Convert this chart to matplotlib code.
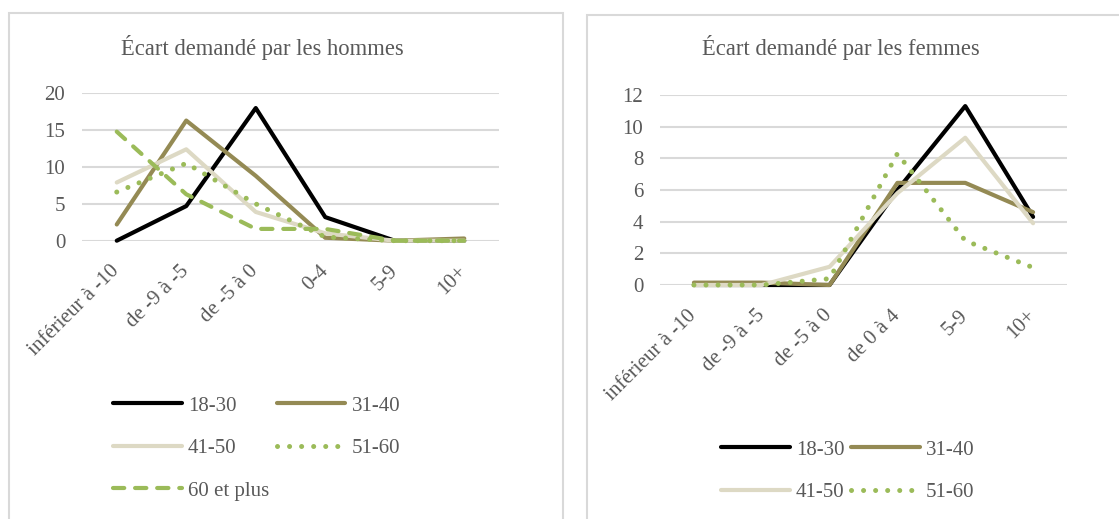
import numpy as np
import matplotlib.pyplot as plt
from matplotlib.patches import Rectangle

# categories
cat_h = ['inférieur à -10', 'de -9 à -5', 'de -5 à 0', '0-4', '5-9', '10+']
cat_f = ['inférieur à -10', 'de -9 à -5', 'de -5 à 0', 'de 0 à 4', '5-9', '10+']

# men, by age group
h_18_30 = [0, 4.7, 18.0, 3.2, 0, 0]
h_31_40 = [2.2, 16.3, 8.8, 0.4, 0, 0.3]
h_41_50 = [7.9, 12.4, 3.9, 1.0, 0, 0]
h_51_60 = [6.6, 10.5, 5.0, 0.5, 0, 0]
h_60_plus = [14.8, 6.3, 1.6, 1.6, 0, 0]

# women, by age group
f_18_30 = [0, 0, 0, 6.0, 11.3, 4.3]
f_31_40 = [0.15, 0.15, 0, 6.45, 6.45, 4.6]
f_41_50 = [0, 0, 1.15, 5.8, 9.3, 3.9]
f_51_60 = [0, 0, 0.4, 8.3, 2.8, 1.1]

TXT = '#595959'
GRID = '#D9D9D9'
plt.rcParams['font.family'] = ['Liberation Serif', 'DejaVu Serif']

styles = {
    '18-30': dict(color='black', lw=3.0, solid_capstyle='round'),
    '31-40': dict(color='#948A54', lw=3.0, solid_capstyle='round'),
    '41-50': dict(color='#DDD9C4', lw=3.0, solid_capstyle='round'),
    '51-60': dict(color='#9BBB59', lw=3.6, linestyle=(0, (0.01, 2.4)), dash_capstyle='round'),
    '60 et plus': dict(color='#9BBB59', lw=3.0, linestyle=(0, (2.7, 2.6)), dash_capstyle='round'),
}

fig = plt.figure(figsize=(11.19, 5.19), dpi=100)
W, H = 1119, 519

# chart frames
fig.patches.append(Rectangle((9 / W, -0.1), 554 / W, 1.1 - 13 / H, transform=fig.transFigure,
                             fill=False, ec=GRID, lw=1.5))
fig.patches.append(Rectangle((587 / W, -0.1), 540 / W, 1.1 - 15 / H, transform=fig.transFigure,
                             fill=False, ec=GRID, lw=1.5))


def make_axes(rect, cats, series, ymax, ystep, title, title_xy, leg_xy, col_gap):
    ax = fig.add_axes(rect)
    x = np.arange(len(cats))
    lines = []
    for name, vals in series:
        ln, = ax.plot(x, vals, label=name, clip_on=False, **styles[name])
        lines.append(ln)
    ax.set_xlim(-0.5, len(cats) - 0.5)
    ax.set_ylim(0, ymax)
    ax.set_yticks(np.arange(0, ymax + 0.1, ystep))
    ax.yaxis.grid(True, color=GRID, lw=1.5)
    ax.set_axisbelow(True)
    for s in ax.spines.values():
        s.set_visible(False)
    ax.tick_params(length=0, labelsize=15, labelcolor=TXT)
    ax.tick_params(axis='y', pad=12)
    ax.tick_params(axis='x', pad=20)
    ax.set_xticks(x)
    ax.set_xticklabels(cats, rotation=45, ha='right', va='center', rotation_mode='anchor')
    fig.text(title_xy[0] / W, 1 - title_xy[1] / H, title, ha='center', va='center',
             fontsize=16.3, color=TXT)
    # legend reads row by row, matplotlib fills column by column
    order = list(range(0, len(lines), 2)) + list(range(1, len(lines), 2))
    leg = ax.legend([lines[i] for i in order], [lines[i].get_label() for i in order],
                    loc='upper left', bbox_to_anchor=(leg_xy[0] / W, 1 - leg_xy[1] / H),
                    bbox_transform=fig.transFigure,
                    ncol=2, frameon=False, fontsize=15, handlelength=3.3, handletextpad=0.3,
                    columnspacing=col_gap, labelspacing=1.1, borderpad=0, borderaxespad=0)
    for t in leg.get_texts():
        t.set_color(TXT)
    return ax


make_axes([82 / W, 1 - 240.7 / H, 417 / W, 147.4 / H], cat_h,
          [('18-30', h_18_30), ('31-40', h_31_40), ('41-50', h_41_50),
           ('51-60', h_51_60), ('60 et plus', h_60_plus)],
          20, 5, 'Écart demandé par les hommes', (262, 47), (113, 396), 0.35)

make_axes([660 / W, 1 - 285 / H, 407 / W, 190 / H], cat_f,
          [('18-30', f_18_30), ('31-40', f_31_40), ('41-50', f_41_50), ('51-60', f_51_60)],
          12, 2, 'Écart demandé par les femmes', (841, 48), (721, 440), 0.3)

fig.savefig('out.png', dpi=100)
